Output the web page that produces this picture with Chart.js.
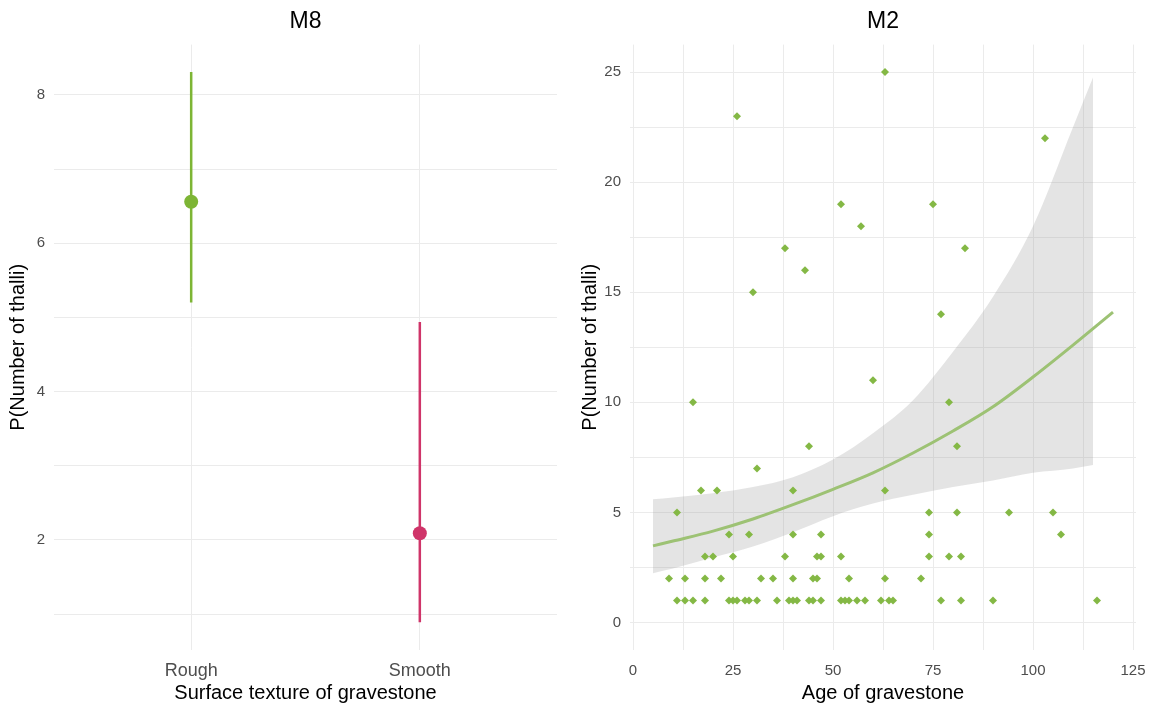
<!DOCTYPE html>
<html>
<head>
<meta charset="utf-8">
<title>M8 / M2</title>
<script src="https://cdn.jsdelivr.net/npm/chart.js@4.4.1/dist/chart.umd.min.js"></script>
<style>
  body { margin: 0; background: #fff; }
  #wrap { position: relative; width: 1151px; height: 707px; }
  canvas { position: absolute; top: 0; }
</style>
</head>
<body>
<div id="wrap">
  <canvas id="m8" width="572" height="707" style="left:0"></canvas>
  <canvas id="m2" width="579" height="707" style="left:572px"></canvas>
</div>
<script>
// M8: estimate + interval per surface texture
var textures = ['Rough', 'Smooth'];
var textureFit = [6.56, 2.09];
var textureLow = [5.20, 0.89];
var textureHigh = [8.31, 4.94];
var textureColors = ['#7db535', '#cf3469'];
var textureYTicks = [1, 2, 3, 4, 5, 6, 7, 8];

// M2: observed thalli per gravestone age
var ages = [63, 26, 103, 52, 75, 57, 38, 83, 43, 30, 77, 60, 15, 79, 44, 81, 31,
    17, 21, 40, 63,
    11, 74, 81, 94, 105,
    24, 29, 40, 47, 74, 107,
    18, 20, 25, 38, 46, 47, 52, 74, 79, 82,
    9, 13, 18, 22, 32, 35, 40, 45, 46, 54, 63, 72,
    11, 13, 15, 18, 24, 25, 26, 28, 29, 31, 36, 39, 40, 41, 44, 45, 47, 52, 53, 54, 56, 58, 62, 64, 65, 77, 82, 90, 116];
var thalli = [25, 23, 22, 19, 19, 18, 17, 17, 16, 15, 14, 11, 10, 10, 8, 8, 7,
    6, 6, 6, 6,
    5, 5, 5, 5, 5,
    4, 4, 4, 4, 4, 4,
    3, 3, 3, 3, 3, 3, 3, 3, 3, 3,
    2, 2, 2, 2, 2, 2, 2, 2, 2, 2, 2, 2,
    1, 1, 1, 1, 1, 1, 1, 1, 1, 1, 1, 1, 1, 1, 1, 1, 1, 1, 1, 1, 1, 1, 1, 1, 1, 1, 1, 1, 1];

// M2: fitted curve and its band
var fitAges = [5, 10, 20, 30, 40, 50, 60, 70, 80, 90, 100, 110, 120];
var fitValues = [3.48, 3.7, 4.15, 4.7, 5.35, 6.05, 6.8, 7.7, 8.7, 9.8, 11.15, 12.6, 14.1];
var bandAges = [5, 10, 20, 30, 40, 50, 60, 70, 80, 90, 100, 110, 115];
var bandLow = [2.24, 2.45, 2.95, 3.45, 4.1, 4.83, 5.4, 5.8, 6.15, 6.45, 6.8, 7.0, 7.15];
var bandHigh = [5.6, 5.68, 5.87, 6.15, 6.6, 7.4, 8.6, 10.1, 12.3, 14.8, 18.0, 22.5, 24.75];

var ageTicks = [0, 12.5, 25, 37.5, 50, 62.5, 75, 87.5, 100, 112.5, 125];
var countTicks = [0, 2.5, 5, 7.5, 10, 12.5, 15, 17.5, 20, 22.5, 25];

Chart.defaults.font.family = '"Liberation Sans", Arial, sans-serif';
Chart.defaults.animation = false;

function pairs(xs, ys) {
    return xs.map(function (x, i) { return { x: x, y: ys[i] }; });
}

// keep tick labels from pushing the plot area around
function noLabelPad(s) {
    s.paddingLeft = 0;
    s.paddingRight = 0;
    s.paddingTop = 0;
    s.paddingBottom = 0;
}

function titleOpts(text) {
    return {
        display: true,
        text: text,
        fullSize: false,
        color: '#000',
        font: { size: 23, weight: 'normal' },
        padding: { top: 8, bottom: 9 }
    };
}

function yTitle() {
    return { display: true, text: 'P(Number of thalli)', color: '#000', font: { size: 20 }, padding: { top: 6, bottom: 0 } };
}

// ---- M8 ----
var m8Sets = [{
    label: 'estimate',
    data: pairs([1, 2], textureFit),
    pointRadius: 7,
    pointBackgroundColor: textureColors,
    pointBorderWidth: 0,
    showLine: false
}];
textures.forEach(function (t, i) {
    m8Sets.push({
        label: t,
        data: [{ x: i + 1, y: textureLow[i] }, { x: i + 1, y: textureHigh[i] }],
        showLine: true,
        borderColor: textureColors[i],
        borderWidth: 2.5,
        pointRadius: 0
    });
});

new Chart(document.getElementById('m8'), {
    type: 'scatter',
    data: { datasets: m8Sets },
    options: {
        responsive: false,
        layout: { padding: { left: 0, right: 15, top: 0, bottom: 0 } },
        plugins: { legend: { display: false }, tooltip: { enabled: false }, title: titleOpts('M8') },
        scales: {
            x: {
                min: 0.4, max: 2.6,
                afterBuildTicks: function (s) { s.ticks = [{ value: 1 }, { value: 2 }]; },
                afterFit: function (s) { s.height = 57; noLabelPad(s); },
                ticks: {
                    color: '#4d4d4d', font: { size: 18 }, padding: 10,
                    callback: function (v) { return textures[v - 1]; }
                },
                grid: { color: '#ebebeb', drawTicks: false },
                border: { display: false },
                title: { display: true, text: 'Surface texture of gravestone', color: '#000', font: { size: 20 }, padding: { top: 0, bottom: 2 } }
            },
            y: {
                min: 0.517, max: 8.678,
                afterBuildTicks: function (s) { s.ticks = textureYTicks.map(function (v) { return { value: v }; }); },
                afterFit: function (s) { s.width = 54; noLabelPad(s); },
                ticks: {
                    color: '#4d4d4d', font: { size: 15 }, padding: 9,
                    callback: function (v) { return v % 2 === 0 ? v : ''; }
                },
                grid: { color: '#ebebeb', drawTicks: false },
                border: { display: false },
                title: yTitle()
            }
        }
    }
});

// ---- M2 ----
new Chart(document.getElementById('m2'), {
    type: 'scatter',
    data: {
        datasets: [{
            label: 'gravestones',
            data: pairs(ages, thalli),
            pointStyle: 'rectRot',
            pointRadius: 4,
            pointBackgroundColor: '#84b845',
            pointBorderWidth: 0
        }, {
            label: 'fit',
            data: pairs(fitAges, fitValues),
            showLine: true,
            borderColor: '#9dc274',
            borderWidth: 3,
            cubicInterpolationMode: 'monotone',
            pointRadius: 0
        }, {
            label: 'band low',
            data: pairs(bandAges, bandLow),
            showLine: true,
            borderWidth: 0,
            borderColor: 'rgba(0,0,0,0)',
            cubicInterpolationMode: 'monotone',
            pointRadius: 0,
            fill: false
        }, {
            label: 'band high',
            data: pairs(bandAges, bandHigh),
            showLine: true,
            borderWidth: 0,
            borderColor: 'rgba(0,0,0,0)',
            backgroundColor: 'rgba(150,150,150,0.26)',
            cubicInterpolationMode: 'monotone',
            pointRadius: 0,
            fill: '-1'
        }]
    },
    options: {
        responsive: false,
        layout: { padding: { left: 0, right: 15, top: 0, bottom: 0 } },
        plugins: { legend: { display: false }, tooltip: { enabled: false }, title: titleOpts('M2') },
        scales: {
            x: {
                min: -0.75, max: 125.75,
                afterBuildTicks: function (s) { s.ticks = ageTicks.map(function (v) { return { value: v }; }); },
                afterFit: function (s) { s.height = 57; noLabelPad(s); },
                ticks: {
                    color: '#4d4d4d', font: { size: 15 }, padding: 12,
                    callback: function (v) { return v % 25 === 0 ? v : ''; }
                },
                grid: { color: '#ebebeb', drawTicks: false },
                border: { display: false },
                title: { display: true, text: 'Age of gravestone', color: '#000', font: { size: 20 }, padding: { top: 0, bottom: 2 } }
            },
            y: {
                min: -1.25, max: 26.25,
                afterBuildTicks: function (s) { s.ticks = countTicks.map(function (v) { return { value: v }; }); },
                afterFit: function (s) { s.width = 58; noLabelPad(s); },
                ticks: {
                    color: '#4d4d4d', font: { size: 15 }, padding: 9,
                    callback: function (v) { return v % 5 === 0 ? v : ''; }
                },
                grid: { color: '#ebebeb', drawTicks: false },
                border: { display: false },
                title: yTitle()
            }
        }
    }
});
</script>
</body>
</html>
